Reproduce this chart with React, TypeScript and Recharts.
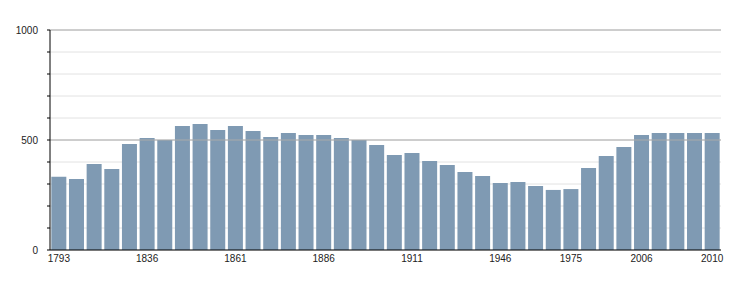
import {
  BarChart,
  Bar,
  XAxis,
  YAxis,
  CartesianGrid,
  ReferenceLine
} from 'recharts';

// years of each census
const years = [
  '1793', '1800', '1806', '1821', '1831', '1836', '1841', '1846', '1851', '1856',
  '1861', '1866', '1872', '1876', '1881', '1886', '1891', '1896', '1901', '1906',
  '1911', '1921', '1926', '1931', '1936', '1946', '1954', '1962', '1968', '1975',
  '1982', '1990', '1999', '2006', '2007', '2008', '2009', '2010'
];

// inhabitants
const population = [
  333, 323, 391, 368, 482, 509, 500, 564, 573, 545,
  564, 541, 514, 532, 523, 523, 509, 500, 477, 432,
  441, 405, 386, 355, 336, 305, 309, 291, 273, 277,
  373, 427, 468, 523, 532, 532, 532, 532
];

const labelledYears = ['1793', '1836', '1861', '1886', '1911', '1946', '1975', '2006', '2010'];

const yTicks = [0, 100, 200, 300, 400, 500, 600, 700, 800, 900, 1000];
const yLabels = [0, 500, 1000];

const data = years.map((year, i) => ({
  year,
  population: population[i]
}));

const font = '"Liberation Sans", Arial, sans-serif';

export default function App() {

  return (
    <div style={{ position: 'absolute', left: 0, top: 0, width: 750, height: 300, background: '#fff' }}>

      <BarChart
        width={750}
        height={300}
        data={data}
        margin={{ top: 30, right: 29, left: 0, bottom: 30 }}
        barCategoryGap="7.5%"
      >

        <CartesianGrid
          vertical={false}
          stroke="#e2e2e2"
          horizontalValues={yTicks}
        />

        <ReferenceLine y={1000} stroke="#aaaaaa" />
        <ReferenceLine y={500} stroke="#aaaaaa" />

        <XAxis
          dataKey="year"
          interval={0}
          tickLine={false}
          tickSize={0}
          tickMargin={5}
          height={20}
          axisLine={{ stroke: '#000' }}
          tick={{ fill: '#222', fontSize: 10, fontFamily: font }}
          tickFormatter={(v: string) => (labelledYears.includes(v) ? v : '')}
        />

        <YAxis
          width={50}
          domain={[0, 1000]}
          ticks={yTicks}
          interval={0}
          tickSize={3}
          tickMargin={9}
          axisLine={{ stroke: '#000' }}
          tickLine={{ stroke: '#000' }}
          tick={{ fill: '#222', fontSize: 10, fontFamily: font }}
          tickFormatter={(v: number) => (yLabels.includes(v) ? String(v) : '')}
        />

        <Bar
          dataKey="population"
          fill="#7f9ab3"
          isAnimationActive={false}
        />

      </BarChart>

    </div>
  );
}
